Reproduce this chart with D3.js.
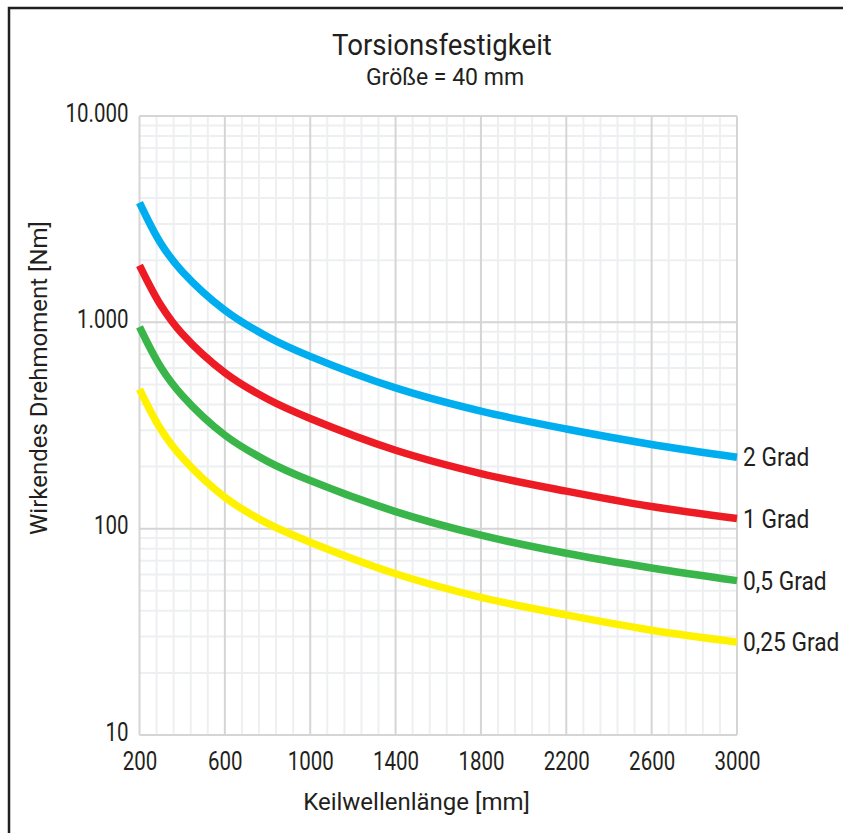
<!DOCTYPE html>
<html><head><meta charset="utf-8">
<script src="https://cdn.jsdelivr.net/npm/d3@7"></script>
<style>
html,body{margin:0;padding:0;background:#fff;}
svg{display:block;}
text{font-family:Roboto,"Liberation Sans",sans-serif;fill:#231f20;}
</style></head>
<body>
<svg id="c" width="843" height="833"></svg>
<script>
// ---- data ----
const title = "Torsionsfestigkeit";
const subtitle = "Größe = 40 mm";
const xTitle = "Keilwellenlänge [mm]";
const yTitle = "Wirkendes Drehmoment [Nm]";
const lengths = [200, 300, 400, 600, 800, 1000, 1400, 1800, 2200, 2600, 3000];
const grad2   = [3800, 2410, 1765, 1145, 852, 684, 481, 371, 304, 256, 222];
const grad1   = [1890, 1210, 880, 570, 425, 342, 240, 185, 152, 128, 112];
const grad05  = [950, 606, 442, 284, 212, 171, 121, 93, 76, 64.5, 56];
const grad025 = [475, 303, 221, 142, 106, 86, 60.5, 46.5, 38.2, 32.2, 28.2];
const seriesNames = ["2 Grad", "1 Grad", "0,5 Grad", "0,25 Grad"];
const seriesColors = ["#00aeef", "#ed1c24", "#39b54a", "#fff200"];
const xTicks = [200, 600, 1000, 1400, 1800, 2200, 2600, 3000];
const yTicks = [10, 100, 1000, 10000];
const yTickLabels = ["10", "100", "1.000", "10.000"];

const seriesValues = [grad2, grad1, grad05, grad025];

const svg = d3.select("#c");
const L = 139.5, R = 737, T = 116, B = 735;

const x = d3.scaleLinear().domain([200, 3000]).range([L, R]);
const y = d3.scaleLog().domain([10, 10000]).range([B, T]);

function txt(px, py, str, size, anchor, sx, rot) {
  return svg.append("text")
    .attr("transform", `translate(${px},${py})` + (rot ? ` rotate(${rot})` : "") + ` scale(${sx},1)`)
    .attr("text-anchor", anchor).attr("font-size", size).text(str);
}

// outer frame (only top and left visible)
svg.append("path").attr("d", `M9,850 L9,8 L850,8`)
  .attr("fill", "none").attr("stroke", "#231f20").attr("stroke-width", 2.5);

const g = svg.append("g");

// minor grid
const xMinor = d3.range(200, 3000.1, 80).filter(v => !xTicks.includes(v));
const yMinor = [];
[10, 100, 1000].forEach(d => { for (let k = 2; k <= 9; k++) yMinor.push(d * k); });

g.selectAll(".vmin").data(xMinor).join("line")
  .attr("x1", d => x(d)).attr("x2", d => x(d)).attr("y1", T).attr("y2", B)
  .attr("stroke", "#edeff1").attr("stroke-width", 2);
g.selectAll(".hmin").data(yMinor).join("line")
  .attr("x1", L).attr("x2", R).attr("y1", d => y(d)).attr("y2", d => y(d))
  .attr("stroke", "#edeff1").attr("stroke-width", 2);

// major grid
g.selectAll(".vmaj").data(xTicks).join("line")
  .attr("x1", d => x(d)).attr("x2", d => x(d)).attr("y1", T).attr("y2", B)
  .attr("stroke", "#d5d5d5").attr("stroke-width", 2);
g.selectAll(".hmaj").data(yTicks).join("line")
  .attr("x1", L).attr("x2", R).attr("y1", d => y(d)).attr("y2", d => y(d))
  .attr("stroke", "#d5d5d5").attr("stroke-width", 2);

// axes (labels only, drawn through the scales)
const xAxis = d3.axisBottom(x).tickValues(xTicks).tickSize(0).tickPadding(0).tickFormat(d3.format("d"));
const xg = svg.append("g").attr("transform", `translate(0,${B})`).call(xAxis);
xg.select(".domain").remove();
xg.selectAll("text").attr("font-size", 25).attr("fill", "#231f20")
  .attr("y", 0).attr("dy", 0).attr("transform", "translate(0,35) scale(0.82,1)")
  .style("font-family", "Roboto, sans-serif");

const yAxis = d3.axisLeft(y).tickValues(yTicks).tickSize(0).tickPadding(0)
  .tickFormat((d, i) => yTickLabels[i]);
const yg = svg.append("g").attr("transform", `translate(${L},0)`).call(yAxis);
yg.select(".domain").remove();
yg.selectAll("text").attr("font-size", 25).attr("fill", "#231f20")
  .attr("x", 0).attr("dy", 0).attr("text-anchor", "end")
  .attr("transform", "translate(-11,5) scale(0.82,1)")
  .style("font-family", "Roboto, sans-serif");

// curves
const line = d3.line().x(d => x(d[0])).y(d => y(d[1])).curve(d3.curveCatmullRom.alpha(0.5));
seriesValues.forEach((vals, i) => {
  const pts = lengths.map((l, j) => [l, vals[j]]);
  svg.append("path").datum(pts).attr("d", line)
    .attr("fill", "none").attr("stroke", seriesColors[i]).attr("stroke-width", 7.5);
  txt(R + 6, y(vals[vals.length - 1]) + 9, seriesNames[i], 25, "start", 0.91);
});

// titles
txt(442, 55, title, 30, "middle", 0.92);
txt(445, 85, subtitle, 23, "middle", 1.0);
txt(416.5, 810, xTitle, 24, "middle", 1.0);
txt(47, 378, yTitle, 24, "middle", 1.0, -90);
</script>
</body></html>
